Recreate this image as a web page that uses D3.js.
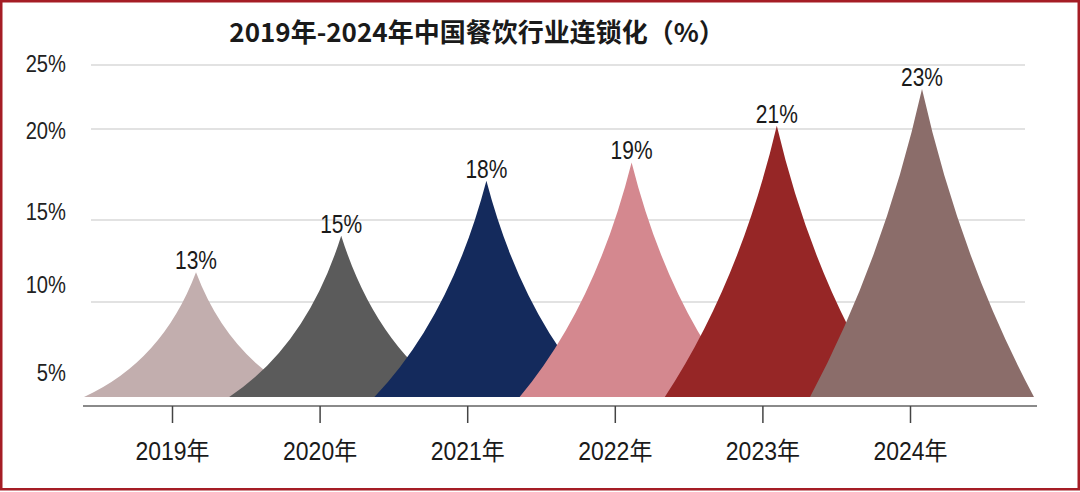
<!DOCTYPE html>
<html>
<head>
<meta charset="utf-8">
<script src="https://cdn.jsdelivr.net/npm/d3@7"></script>
<style>
  html, body { margin: 0; padding: 0; background: #fff; }
  svg { display: block; }
</style>
</head>
<body>
<svg id="chart" width="1080" height="492"></svg>
<script>
// ---- data ----
const title = "2019年-2024年中国餐饮行业连锁化（%）";
const years = ["2019年", "2020年", "2021年", "2022年", "2023年", "2024年"];
const values = [13, 15, 18, 19, 21, 23];
const valueLabels = ["13%", "15%", "18%", "19%", "21%", "23%"];
const colors = ["#c2aeae", "#5b5b5b", "#142a5c", "#d4888f", "#962626", "#8b6d6a"];
const yTickValues = [5, 10, 15, 20, 25];
const yTickLabels = ["5%", "10%", "15%", "20%", "25%"];
const gridValues = [10, 15, 20, 25];

const svg = d3.select("#chart");
const numFont = "'Liberation Sans', Arial, sans-serif";
const cjkFont = "'Liberation Sans', 'Noto Sans CJK SC', sans-serif";
const squeeze = 0.84;

// ---- scales ----
const xPeak = d3.scalePoint().domain(years).range([196, 922]);
const xAxisScale = d3.scalePoint().domain(years).range([172, 910]);
const y = d3.scaleLinear().domain([6.2, 25]).range([397, 52.4]);
const gridY = d3.scaleLinear().domain([10, 15, 20, 25]).range([302, 220, 129, 65]);
const labelY = d3.scaleLinear().domain([5, 10, 15, 20, 25]).range([372, 284, 211, 130, 63]);
const halfW = 112;
const base = y.range()[0];
const curv = d3.scaleLinear().domain([120, 305]).range([0.28, 0.45]).clamp(true);
const curvU = d3.scaleLinear().domain([120, 305]).range([0.70, 0.66]).clamp(true);

// ---- frame ----
svg.append("rect")
  .attr("x", 1.25).attr("y", 1.25).attr("width", 1077.5).attr("height", 488)
  .attr("fill", "none").attr("stroke", "#a51d25").attr("stroke-width", 2.5);

// ---- title ----
svg.append("text")
  .attr("x", 477).attr("y", 42)
  .attr("text-anchor", "middle")
  .style("font-family", "'Noto Sans CJK SC', sans-serif")
  .style("font-weight", "bold")
  .style("font-size", "26px")
  .attr("fill", "#1a1a1a")
  .text(title);

// ---- gridlines ----
svg.append("g").selectAll("line").data(gridValues).join("line")
  .attr("x1", 91).attr("x2", 1025)
  .attr("y1", d => gridY(d)).attr("y2", d => gridY(d))
  .attr("stroke", "#e2e2e2").attr("stroke-width", 2);

// ---- y labels ----
svg.append("g").selectAll("text").data(yTickValues).join("text")
  .attr("transform", d => `translate(66,${labelY(d)}) scale(${squeeze},1)`)
  .attr("dy", "0.36em")
  .attr("text-anchor", "end")
  .style("font-family", numFont).style("font-size", "24px")
  .attr("fill", "#222")
  .text((d, i) => yTickLabels[i]);

// ---- spikes ----
function spike(d, i) {
  const xp = xPeak(years[i]);
  const top = y(d);
  const h = base - top;
  const cu = curvU(h), cv = curv(h);
  const x0 = xp - halfW, x1 = xp + halfW;
  const p = d3.path();
  p.moveTo(x0, base);
  p.quadraticCurveTo(x0 + cu * halfW, base - cv * h, xp, top);
  p.quadraticCurveTo(x1 - cu * halfW, base - cv * h, x1, base);
  p.closePath();
  return p.toString();
}
svg.append("g").selectAll("path").data(values).join("path")
  .attr("d", spike)
  .attr("fill", (d, i) => colors[i]);

// ---- value labels ----
svg.append("g").selectAll("text").data(values).join("text")
  .attr("transform", (d, i) => `translate(${xPeak(years[i])},${y(d) - 3}) scale(${squeeze},1)`)
  .attr("text-anchor", "middle")
  .style("font-family", numFont).style("font-size", "25px")
  .attr("fill", "#1a1a1a")
  .text((d, i) => valueLabels[i]);

// ---- x axis ----
svg.append("line")
  .attr("x1", 83).attr("x2", 1037).attr("y1", 406).attr("y2", 406)
  .attr("stroke", "#8a8a8a").attr("stroke-width", 2);

const ax = svg.append("g").attr("transform", "translate(0,406)")
  .call(d3.axisBottom(xAxisScale).tickSize(17).tickSizeOuter(0));
ax.select(".domain").remove();
ax.selectAll(".tick line").attr("stroke", "#444").attr("stroke-width", 1.5);
ax.selectAll(".tick text")
  .attr("dy", null).attr("y", 0)
  .attr("transform", "translate(0,54) scale(0.92,1)")
  .style("font-family", cjkFont).style("font-size", "25px")
  .attr("fill", "#1a1a1a");
</script>
</body>
</html>
